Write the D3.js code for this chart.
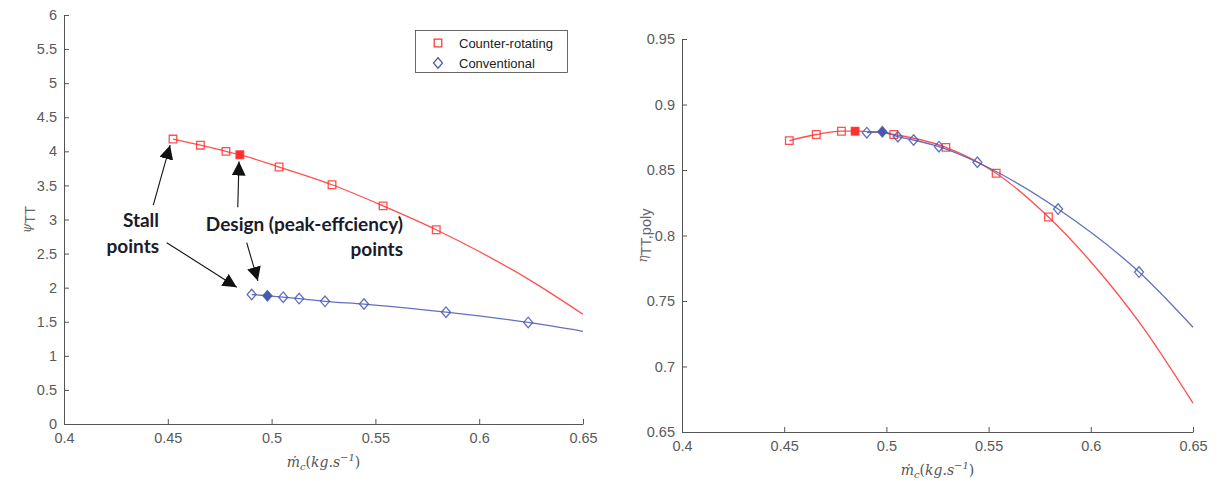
<!DOCTYPE html>
<html>
<head>
<meta charset="utf-8">
<script src="https://cdn.jsdelivr.net/npm/d3@7"></script>
<style>
  body { margin: 0; background: #fff; }
  svg { display: block; }
  .tick text { font-family: "Liberation Sans", Arial, sans-serif; font-size: 14.5px; fill: #5a5a5a; }
  .axis path, .axis line { stroke: #555; }
</style>
</head>
<body>
<div id="chart"></div>
<script>
// Compressor map: pressure coefficient and polytropic efficiency vs corrected mass flow

const massFlowTicks = [0.4, 0.45, 0.5, 0.55, 0.6, 0.65];
const psiTicks = [0, 0.5, 1, 1.5, 2, 2.5, 3, 3.5, 4, 4.5, 5, 5.5, 6];
const etaTicks = [0.65, 0.7, 0.75, 0.8, 0.85, 0.9, 0.95];

const seriesNames = ["Counter-rotating", "Conventional"];

// counter-rotating stage (index 3 = design point)
const counterFlow = [0.4525, 0.4657, 0.478, 0.4847, 0.5036, 0.5291, 0.5537, 0.5793];
const counterPsi  = [4.18, 4.09, 4.00, 3.95, 3.77, 3.51, 3.20, 2.85];
const counterEta  = [0.8724, 0.8771, 0.8796, 0.8796, 0.8771, 0.8673, 0.8475, 0.8141];
const counterDesign = 3;

// conventional stage (index 1 = design point)
const convFlow = [0.4904, 0.498, 0.5056, 0.5133, 0.5257, 0.5445, 0.584, 0.6236];
const convPsi  = [1.90, 1.88, 1.86, 1.84, 1.80, 1.76, 1.64, 1.49];
const convEta  = [0.8785, 0.8792, 0.8754, 0.8729, 0.8678, 0.8559, 0.8202, 0.7721];
const convDesign = 1;

// fitted curve continues past the last measured point
const counterTailFlow = [0.6, 0.625, 0.65];
const counterTailPsi  = [2.53, 2.10, 1.61];
const counterTailEta  = [0.780, 0.731, 0.672];
const convTailFlow = [0.65];
const convTailPsi  = [1.36];
const convTailEta  = [0.730];

// annotation arrows on the left panel, [flow, psi]
const arrowStarts = [[0.443, 3.21], [0.4837, 3.18], [0.4495, 2.66], [0.488, 2.66]];
const arrowEnds   = [[0.4511, 4.09], [0.4843, 3.85], [0.4832, 2.005], [0.4934, 2.10]];

const width = 1217, height = 481;
const red = "#ff3030", blue = "#4858b0";

const svg = d3.select("#chart").append("svg")
    .attr("width", width)
    .attr("height", height);

svg.append("defs").append("marker")
    .attr("id", "head")
    .attr("viewBox", "0 0 10 10")
    .attr("refX", 10).attr("refY", 5)
    .attr("markerWidth", 14).attr("markerHeight", 14)
    .attr("markerUnits", "userSpaceOnUse")
    .attr("orient", "auto")
    .append("path")
    .attr("d", "M0,0 L10,5 L0,10 Z")
    .attr("fill", "#111");

const diamond = {
    draw(ctx, size) {
        const h = Math.sqrt(size) * 0.62, w = h * 0.86;
        ctx.moveTo(0, -h); ctx.lineTo(w, 0); ctx.lineTo(0, h); ctx.lineTo(-w, 0); ctx.closePath();
    }
};
const squareShape = d3.symbol(d3.symbolSquare).size(58)();
const diamondShape = d3.symbol(diamond).size(72)();

function panel(cfg) {
    const x = d3.scaleLinear().domain([0.4, 0.65]).range(cfg.xRange);
    const y = d3.scaleLinear().domain(cfg.yDomain).range(cfg.yRange);
    const g = svg.append("g");

    g.append("g")
        .attr("class", "axis")
        .attr("transform", `translate(0, ${cfg.yRange[0]})`)
        .call(d3.axisBottom(x).tickValues(massFlowTicks).tickFormat(d3.format("")).tickSize(-5).tickSizeOuter(0).tickPadding(9))
        .select(".domain").attr("stroke", "#555");

    g.append("g")
        .attr("class", "axis")
        .attr("transform", `translate(${cfg.xRange[0]}, 0)`)
        .call(d3.axisLeft(y).tickValues(cfg.yTicks).tickFormat(d3.format("")).tickSize(-5).tickSizeOuter(0).tickPadding(7));

    g.selectAll(".tick text").attr("dy", null);
    g.selectAll(".axis").filter((d, i) => i === 0).selectAll(".tick text").attr("dy", "0.71em");
    g.selectAll(".axis").filter((d, i) => i === 1).selectAll(".tick text").attr("dy", "0.32em");

    // x label
    const xl = g.append("text")
        .attr("x", (cfg.xRange[0] + cfg.xRange[1]) / 2)
        .attr("y", cfg.yRange[0] + 43)
        .attr("text-anchor", "middle")
        .attr("font-family", "'DejaVu Serif', 'Liberation Serif', serif")
        .attr("font-style", "italic")
        .attr("font-size", 14)
        .attr("fill", "#555");
    xl.append("tspan").text("m\u0307");
    xl.append("tspan").attr("font-size", 10).attr("dy", 3).text("c");
    xl.append("tspan").attr("dy", -3).attr("font-style", "normal").text("(");
    xl.append("tspan").text("kg.s");
    xl.append("tspan").attr("font-size", 10).attr("dy", -6).text("\u2212" + "1");
    xl.append("tspan").attr("dy", 6).attr("font-style", "normal").text(")");

    // y label
    const yl = g.append("text")
        .attr("transform", `translate(${cfg.yLabelX}, ${(cfg.yRange[0] + cfg.yRange[1]) / 2}) rotate(-90)`)
        .attr("text-anchor", "middle")
        .attr("font-family", "'Liberation Sans', Arial, sans-serif")
        .attr("font-size", 14.5)
        .attr("fill", "#666");
    yl.append("tspan").attr("font-family", "'DejaVu Serif', serif").attr("font-style", "italic").attr("font-size", 12).text(cfg.yLabel[0]);
    yl.append("tspan").attr("dy", 4).text(cfg.yLabel[1]);

    const line = d3.line()
        .x(d => x(d[0]))
        .y(d => y(d[1]))
        .curve(d3.curveMonotoneX);

    cfg.series.forEach(s => {
        const pts = s.flow.map((f, i) => [f, s.val[i]]);
        const tail = s.tailFlow.map((f, i) => [f, s.tailVal[i]]);
        g.append("path")
            .datum(pts.concat(tail))
            .attr("d", line)
            .attr("fill", "none")
            .attr("stroke", s.color)
            .attr("stroke-opacity", 0.85)
            .attr("stroke-width", 1.3);
        g.append("g").selectAll("path")
            .data(pts)
            .join("path")
            .attr("transform", d => `translate(${x(d[0])}, ${y(d[1])})`)
            .attr("d", s.shape)
            .attr("fill", (d, i) => i === s.design ? s.color : "none")
            .attr("stroke", s.color)
            .attr("stroke-opacity", 0.85)
            .attr("stroke-width", 1.3);
    });

    return {x, y, g};
}

const left = panel({
    xRange: [64, 583], yRange: [424, 15], yDomain: [0, 6], yTicks: psiTicks,
    yLabel: ["\u03c8", "TT"], yLabelX: 31,
    series: [
        {flow: counterFlow, val: counterPsi, tailFlow: counterTailFlow, tailVal: counterTailPsi, color: red, shape: squareShape, design: counterDesign},
        {flow: convFlow, val: convPsi, tailFlow: convTailFlow, tailVal: convTailPsi, color: blue, shape: diamondShape, design: convDesign}
    ]
});

const right = panel({
    xRange: [682, 1193], yRange: [432, 39], yDomain: [0.65, 0.95], yTicks: etaTicks,
    yLabel: ["\u03b7", "TT,poly"], yLabelX: 647,
    series: [
        {flow: counterFlow, val: counterEta, tailFlow: counterTailFlow, tailVal: counterTailEta, color: red, shape: squareShape, design: counterDesign},
        {flow: convFlow, val: convEta, tailFlow: convTailFlow, tailVal: convTailEta, color: blue, shape: diamondShape, design: convDesign}
    ]
});

// legend
const legend = svg.append("g");
legend.append("rect")
    .attr("x", 415.5).attr("y", 30.5).attr("width", 152).attr("height", 42)
    .attr("fill", "#fff").attr("stroke", "#444").attr("stroke-width", 0.8);
seriesNames.forEach((name, i) => {
    legend.append("path")
        .attr("transform", `translate(438, ${43 + i * 20})`)
        .attr("d", i === 0 ? squareShape : diamondShape)
        .attr("fill", "none")
        .attr("stroke", i === 0 ? red : blue)
        .attr("stroke-width", 1.2);
    legend.append("text")
        .attr("x", 459).attr("y", 43 + i * 20)
        .attr("dy", "0.35em")
        .attr("font-family", "'Liberation Sans', Arial, sans-serif")
        .attr("font-size", 13)
        .attr("fill", "#222")
        .text(name);
});

// annotations
const lx = left.x, ly = left.y;
left.g.append("g").selectAll("line")
    .data(arrowStarts)
    .join("line")
    .attr("x1", d => lx(d[0])).attr("y1", d => ly(d[1]))
    .attr("x2", (d, i) => lx(arrowEnds[i][0])).attr("y2", (d, i) => ly(arrowEnds[i][1]))
    .attr("stroke", "#111")
    .attr("stroke-width", 1.1)
    .attr("marker-end", "url(#head)");

const notes = [
    {text: "Stall", flow: 0.4458, psi: 2.89},
    {text: "points", flow: 0.4458, psi: 2.51},
    {text: "Design (peak-effciency)", flow: 0.5633, psi: 2.83},
    {text: "points", flow: 0.5633, psi: 2.46}
];
left.g.append("g").selectAll("text")
    .data(notes)
    .join("text")
    .attr("x", d => lx(d.flow))
    .attr("y", d => ly(d.psi))
    .attr("text-anchor", "end")
    .attr("font-family", "Lato, 'Open Sans', sans-serif")
    .attr("font-weight", "bold")
    .attr("font-size", 19)
    .attr("fill", "#1b1b2a")
    .text(d => d.text);
</script>
</body>
</html>
